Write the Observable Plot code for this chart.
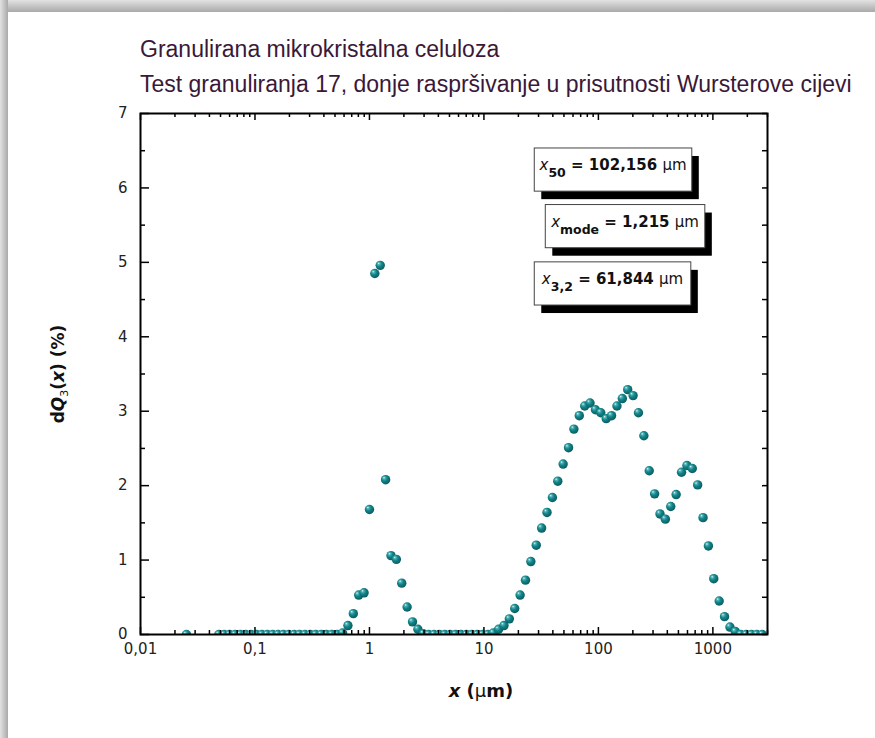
<!DOCTYPE html>
<html><head><meta charset="utf-8">
<script src="https://cdn.jsdelivr.net/npm/d3@7"></script>
<script src="https://cdn.jsdelivr.net/npm/@observablehq/plot@0.6"></script>
<style>
html,body{margin:0;background:#fff;overflow:hidden;}
#wrap{position:relative;width:875px;height:738px;overflow:hidden;background:#fff;}
.edge-top{position:absolute;left:0;top:0;width:875px;height:12px;background:linear-gradient(to bottom,#e2e2e2,#a9a9a9);}
.edge-left{position:absolute;left:0;top:0;width:8px;height:738px;background:linear-gradient(to right,#e2e2e2,#a9a9a9);}
.title{position:absolute;left:140px;font-family:"Liberation Sans",Arial,sans-serif;font-size:23px;color:#3a1838;white-space:nowrap;line-height:1;}
#chart{position:absolute;left:0;top:0;}
</style></head><body>
<div id="wrap">
  <div class="edge-top"></div><div class="edge-left"></div>
  <div id="chart"></div>
  <div class="title" style="top:38px">Granulirana mikrokristalna celuloza</div>
  <div class="title" style="top:73px">Test granuliranja 17, donje raspršivanje u prisutnosti Wursterove cijevi</div>
</div>
<script>
// particle size x (µm)
const sizes = [
  0.0252,
  0.0483, 0.0538, 0.0600, 0.0668, 0.0745, 0.0830, 0.0925, 0.1030, 0.1148, 0.1279,
  0.1426, 0.1589, 0.1770, 0.1972, 0.2198, 0.2449, 0.2729, 0.3041, 0.3388, 0.3776,
  0.4207, 0.4688, 0.5224, 0.5821,
  0.6486, 0.7228, 0.8054, 0.8974, 1.000, 1.114, 1.242, 1.384, 1.542, 1.718,
  1.914, 2.133, 2.377, 2.649, 2.951,
  3.289, 3.665, 4.083, 4.550, 5.070, 5.649, 6.295, 7.015, 7.816, 8.710, 9.705, 10.81, 12.05,
  13.43, 14.96, 16.67, 18.58, 20.70, 23.07, 25.70, 28.64, 31.91, 35.56,
  39.63, 44.16, 49.20, 54.83, 61.09, 68.08, 75.86, 84.53, 94.19, 104.9,
  117.0, 130.3, 145.2, 161.8, 180.3, 200.9, 223.9, 249.5, 278.0, 309.7,
  345.1, 384.6, 428.5, 477.5, 532.1, 592.9, 660.6, 736.1, 820.2, 914.0,
  1018, 1135, 1264, 1409, 1570,
  1749, 1949, 2172, 2420, 2697
];
// dQ3(x) (%)
const dq3 = [
  0,
  0, 0, 0, 0, 0, 0, 0, 0, 0, 0,
  0, 0, 0, 0, 0, 0, 0, 0, 0, 0,
  0, 0, 0, 0.02,
  0.12, 0.28, 0.53, 0.56, 1.68, 4.85, 4.96, 2.08, 1.06, 1.01,
  0.69, 0.37, 0.17, 0.07, 0.01,
  0, 0, 0, 0, 0, 0, 0, 0, 0, 0, 0, 0, 0.02,
  0.07, 0.12, 0.21, 0.35, 0.53, 0.73, 0.98, 1.20, 1.43, 1.64,
  1.84, 2.06, 2.29, 2.51, 2.76, 2.94, 3.07, 3.11, 3.02, 2.98,
  2.90, 2.94, 3.07, 3.17, 3.29, 3.21, 2.98, 2.67, 2.20, 1.89,
  1.62, 1.55, 1.72, 1.88, 2.18, 2.27, 2.23, 2.01, 1.57, 1.19,
  0.75, 0.45, 0.24, 0.10, 0.04,
  0, 0, 0, 0, 0
];
const xTicks = [0.01, 0.1, 1, 10, 100, 1000];
const xTickLabels = ["0,01", "0,1", "1", "10", "100", "1000"];
const yTicks = [0, 1, 2, 3, 4, 5, 6, 7];
const yMinor = [0.5, 1.5, 2.5, 3.5, 4.5, 5.5, 6.5];

// annotation boxes
const boxSub = ["50", "mode", "3,2"];
const boxValue = ["102,156", "1,215", "61,844"];
const boxX1 = [27.8, 34.7, 27.8];
const boxX2 = [661, 859, 648];
const boxY1 = [5.95, 5.19, 4.42];
const boxY2 = [6.53, 5.77, 5.00];

const points = sizes.map((x, i) => ({x, y: dq3[i]}));
const boxes = boxSub.map((s, i) => ({sub: s, value: boxValue[i], x1: boxX1[i], x2: boxX2[i], y1: boxY1[i], y2: boxY2[i]}));
const xMinor = [];
for (const d of xTicks) for (let m = 2; m <= 9; m++) { const v = d * m; if (v <= 3000) xMinor.push(v); }

const W = 875, H = 738, mL = 140, mR = 108, mT = 113, mB = 104;
const plotW = W - mL - mR, plotH = H - mT - mB;
const tk = {stroke: "black", strokeWidth: 1.5};

const plot = Plot.plot({
  width: W, height: H,
  marginLeft: mL, marginRight: mR, marginTop: mT, marginBottom: mB,
  style: {fontFamily: "'DejaVu Sans', Verdana, sans-serif", fontSize: "15px", color: "#1a1a1a", background: "transparent"},
  x: {type: "log", domain: [0.01, 3000]},
  y: {domain: [0, 7]},
  marks: [
    Plot.rect(boxes, {x1: "x1", x2: "x2", y1: "y1", y2: "y2", fill: "black", dx: 7, dy: 8}),
    Plot.rect(boxes, {x1: "x1", x2: "x2", y1: "y1", y2: "y2", fill: "white", stroke: "#444", strokeWidth: 1}),
    Plot.dot(points, {x: "x", y: "y", r: 4.7, fill: "#168484", clip: true}),
    // inward ticks: bottom, top
    Plot.tickX(xTicks, {x: d => d, insetTop: plotH - 7, ...tk}),
    Plot.tickX(xMinor, {x: d => d, insetTop: plotH - 4, ...tk}),
    Plot.tickX(xTicks, {x: d => d, insetBottom: plotH - 7, ...tk}),
    Plot.tickX(xMinor, {x: d => d, insetBottom: plotH - 4, ...tk}),
    // inward ticks: left, right
    Plot.tickY(yTicks, {y: d => d, insetRight: plotW - 9, ...tk}),
    Plot.tickY(yMinor, {y: d => d, insetRight: plotW - 5, ...tk}),
    Plot.tickY(yTicks.concat(yMinor), {y: d => d, insetLeft: plotW - 5, ...tk}),
    Plot.axisX(xTicks, {anchor: "bottom", tickSize: 0, tickPadding: 9, tickFormat: d => xTickLabels[xTicks.indexOf(d)], label: null, fill: "#222"}),
    Plot.axisY(yTicks, {anchor: "left", tickSize: 0, tickPadding: 13, tickFormat: d => String(d), label: null, fill: "#222"}),
    Plot.frame({stroke: "black", strokeWidth: 2})
  ]
});
document.getElementById("chart").append(plot);

const svg = d3.select(plot);
const defs = svg.insert("defs", ":first-child");
const grad = defs.append("radialGradient").attr("id", "ball")
  .attr("cx", "0.42").attr("cy", "0.4").attr("r", "0.62").attr("fx", "0.32").attr("fy", "0.28");
[["0", "#e4f6f6"], ["0.2", "#4fb3b3"], ["0.5", "#12838a"], ["1", "#095a5c"]]
  .forEach(([o, c]) => grad.append("stop").attr("offset", o).attr("stop-color", c));
svg.selectAll('g[aria-label="dot"] circle').attr("fill", "url(#ball)");

const sx = plot.scale("x"), sy = plot.scale("y");
boxes.forEach(b => {
  const cx = (sx.apply(b.x1) + sx.apply(b.x2)) / 2;
  const top = sy.apply(b.y2);
  const t = svg.append("text").attr("x", cx).attr("y", top + 22)
    .attr("text-anchor", "middle").attr("font-family", "'DejaVu Sans', Verdana, sans-serif")
    .attr("font-size", 15).attr("fill", "#111");
  t.append("tspan").attr("font-style", "italic").text("x");
  t.append("tspan").attr("font-weight", "bold").attr("font-size", 12.5).attr("dy", 7).text(b.sub);
  t.append("tspan").attr("font-weight", "bold").attr("dy", -7).text(" = " + b.value + " ");
  t.append("tspan").text("µm");
});

const yl = svg.append("text").attr("transform", "translate(64,374) rotate(-90)")
  .attr("text-anchor", "middle").attr("font-family", "'DejaVu Sans', Verdana, sans-serif")
  .attr("font-weight", "bold").attr("font-size", 17).attr("fill", "#111");
yl.append("tspan").text("d");
yl.append("tspan").attr("font-style", "italic").text("Q");
yl.append("tspan").attr("font-weight", "normal").attr("font-size", 11).attr("dy", 4).text("3");
yl.append("tspan").attr("dy", -4).text("(");
yl.append("tspan").attr("font-style", "italic").text("x");
yl.append("tspan").text(") (%)");

const xl = svg.append("text").attr("x", 481).attr("y", 697)
  .attr("text-anchor", "middle").attr("font-family", "'DejaVu Sans', Verdana, sans-serif")
  .attr("font-weight", "bold").attr("font-size", 18).attr("fill", "#111");
xl.append("tspan").attr("font-style", "italic").text("x");
xl.append("tspan").text(" (");
xl.append("tspan").attr("font-weight", "normal").text("µ");
xl.append("tspan").text("m)");
</script>
</body></html>
